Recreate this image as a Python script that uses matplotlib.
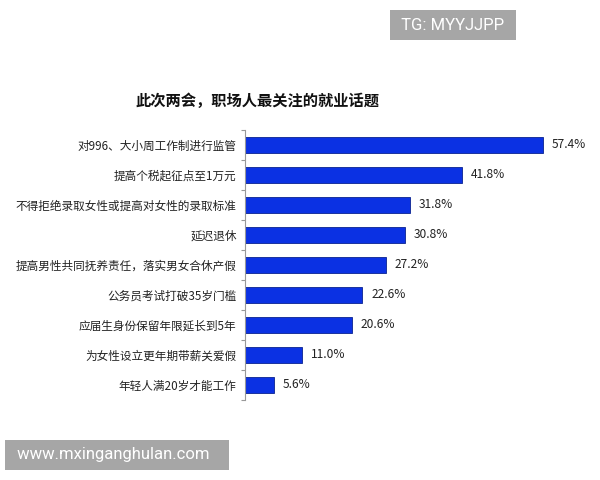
import matplotlib
matplotlib.use("Agg")
import matplotlib.pyplot as plt
import numpy as np

plt.rcParams['font.family'] = ['Noto Sans CJK SC', 'DejaVu Sans']

categories = ["对996、大小周工作制进行监管", "提高个税起征点至1万元", "不得拒绝录取女性或提高对女性的录取标准",
              "延迟退休", "提高男性共同抚养责任，落实男女合休产假", "公务员考试打破35岁门槛",
              "应届生身份保留年限延长到5年", "为女性设立更年期带薪关爱假", "年轻人满20岁才能工作"]
values = [57.4, 41.8, 31.8, 30.8, 27.2, 22.6, 20.6, 11.0, 5.6]
title = "此次两会，职场人最关注的就业话题"

fig = plt.figure(figsize=(6, 4.8), dpi=100)
ax = fig.add_axes([245/600, 1 - 400/480, 340/600, 270/480])
y = np.arange(len(categories))
ax.barh(y, values, height=0.52, color='#0b31e3', edgecolor='#0a2290', linewidth=0.6)
ax.set_ylim(len(categories) - 0.5, -0.5)
ax.set_xlim(0, 340 / 5.19)
ax.set_yticks(y)
ax.set_yticklabels(categories, fontsize=8.4, color='#222222')
ax.tick_params(axis='y', which='major', length=0, pad=6)
ax.set_yticks(np.arange(-0.5, len(categories)), minor=True)
ax.tick_params(axis='y', which='minor', length=3, color='#999999', width=0.8)
ax.set_xticks([])
for s in ['top', 'right', 'bottom']:
    ax.spines[s].set_visible(False)
ax.spines['left'].set_color('#999999')
ax.spines['left'].set_linewidth(0.8)
for yi, v in zip(y, values):
    ax.text(v + 1.7, yi, f"{v:.1f}%", va='center', ha='left', fontsize=8.6, color='#222222')

fig.text(257/600, 1 - 101/480, title, ha='center', va='center', fontsize=11, fontweight='bold', color='#111111')

fig.text(453/600, 1 - 25/480, " TG: MYYJJPP ", ha='center', va='center', fontsize=12, color='white',
         family=['Roboto', 'DejaVu Sans'],
         bbox=dict(boxstyle='square,pad=0.45', facecolor='#a6a6a6', edgecolor='none'))
fig.text(117/600, 1 - 455/480, " www.mxinganghulan.com   ", ha='center', va='center', fontsize=12, color='white',
         family=['Roboto', 'DejaVu Sans'],
         bbox=dict(boxstyle='square,pad=0.45', facecolor='#a6a6a6', edgecolor='none'))

fig.savefig("out.png", dpi=100)
